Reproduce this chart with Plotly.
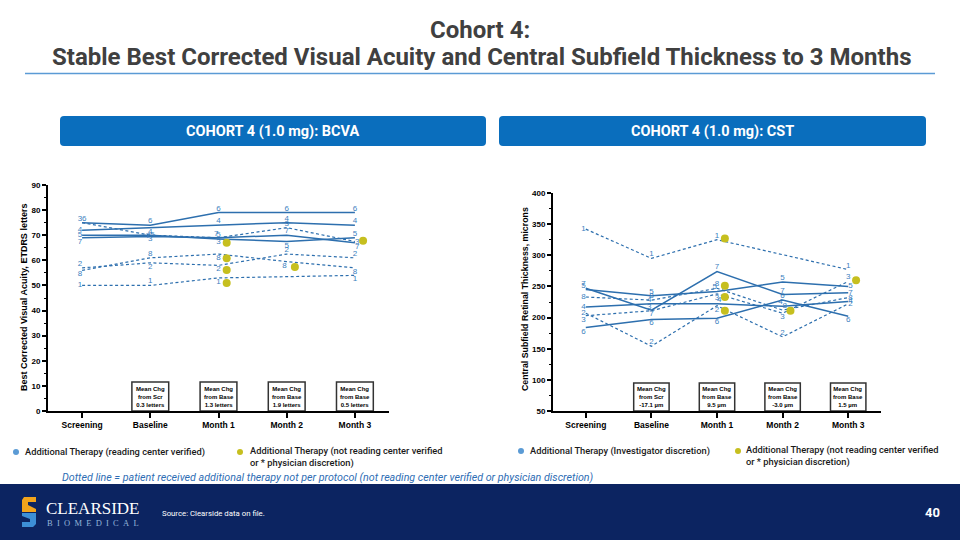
import plotly.graph_objects as go

# ---------------- data ----------------
visits = ["Screening", "Baseline", "Month 1", "Month 2", "Month 3"]
patients = ["1", "2", "3", "4", "5", "6", "7", "8"]

# BCVA (ETDRS letters) per patient
bcva_1 = [50, 50, 53, 53.5, 54]
bcva_2 = [57, 59, 58, 62.5, 61]
bcva_3 = [75, 70, 69, 73, 67.5]
bcva_4 = [72, 73, 74, 75, 74]
bcva_5 = [70, 70, 68.5, 67.5, 69]
bcva_6 = [75, 74, 79, 79, 79]
bcva_7 = [69, 69.5, 69, 70, 67]
bcva_8 = [56, 61, 62.5, 59.5, 57]
bcva_dashed = ["1", "2", "3", "8"]
bcva_dot_visit = ["Month 1", "Month 1", "Month 1", "Month 1", "Month 2", "Month 3"]
bcva_dot_value = [51, 56.2, 60.8, 67, 57.3, 67.8]
bcva_chg_ref = ["Scr", "Base", "Base", "Base"]
bcva_chg_val = ["0.3 letters", "1.3 letters", "1.9 letters", "0.5 letters"]

# CST (microns) per patient
cst_1 = [342, 295, 325, 301, 277]
cst_2 = [207, 154, 219, 169, 222]
cst_3 = [203, 211, 238, 207, 258]
cst_4 = [217, 222, 222, 218, 226]
cst_5 = [245, 235, 242, 257, 250]
cst_6 = [184, 197, 199, 228, 202]
cst_7 = [247, 212, 274, 237, 240]
cst_8 = [233, 228, 247, 212, 232]
cst_dashed = ["1", "2", "3", "8"]
cst_dot_visit = ["Month 1", "Month 1", "Month 1", "Month 1", "Month 2", "Month 3"]
cst_dot_value = [327, 251, 233, 211, 211, 260]
cst_chg_ref = ["Scr", "Base", "Base", "Base"]
cst_chg_val = ["-17.1 µm", "9.5 µm", "-3.0 µm", "1.5 µm"]

bcva_ticks = list(range(0, 91, 10))
cst_ticks = list(range(50, 401, 50))

# ---------------- styles ----------------
W, H = 960, 540
LINE_C = "#2d6fae"
LABEL_C = "#3d7fc0"
DOT_C = "#c6bf1f"
CHART_FONT = "Liberation Sans"
POS = {"tl": "top left", "tc": "top center", "tr": "top right",
       "ml": "middle left", "mr": "middle right",
       "bl": "bottom left", "bc": "bottom center", "br": "bottom right", "": "top center"}

bcva_pos = [
    ["ml", "tc", "bc", "", "bc"],
    ["tl", "bc", "bc", "tc", "tc"],
    ["tl", "bc", "bc", "tc", "mr"],
    ["ml", "bc", "tc", "tc", "tc"],
    ["ml", "mr", "tc", "bc", "tc"],
    ["tr", "tc", "tc", "tc", "tc"],
    ["bl", "ml", "tl", "tc", "br"],
    ["bl", "tc", "bc", "bl", "bc"],
]
cst_pos = [
    ["ml", "tc", "tc", "", "tc"],
    ["ml", "tc", "bc", "tc", "mr"],
    ["bl", "tl", "bc", "bc", "tc"],
    ["ml", "tl", "tr", "tl", "mr"],
    ["tl", "tc", "tl", "tc", "mr"],
    ["bl", "bc", "bc", "tc", "bc"],
    ["tl", "bc", "tc", "tc", "mr"],
    ["ml", "tc", "tc", "tr", "mr"],
]

xi = list(range(len(visits)))
fig = go.Figure()


def add_panel(series, dashed, positions, dot_visit, dot_value, xa, ya):
    for pid, vals, pos in zip(patients, series, positions):
        texts = [pid if p != "" else "" for p in pos]
        fig.add_trace(go.Scatter(
            x=xi, y=vals, mode="lines+text", xaxis=xa, yaxis=ya,
            line=dict(color=LINE_C, width=1.2 if pid in dashed else 1.5,
                      dash="3px,2.5px" if pid in dashed else "solid"),
            text=texts, textposition=[POS[p] for p in pos],
            textfont=dict(family=CHART_FONT, size=8, color=LABEL_C),
            hoverinfo="skip", cliponaxis=False))
    fig.add_trace(go.Scatter(
        x=[visits.index(v) + 0.12 for v in dot_visit], y=dot_value,
        mode="markers", xaxis=xa, yaxis=ya,
        marker=dict(color=DOT_C, size=8), hoverinfo="skip", cliponaxis=False))


add_panel([bcva_1, bcva_2, bcva_3, bcva_4, bcva_5, bcva_6, bcva_7, bcva_8],
          bcva_dashed, bcva_pos, bcva_dot_visit, bcva_dot_value, "x", "y")
add_panel([cst_1, cst_2, cst_3, cst_4, cst_5, cst_6, cst_7, cst_8],
          cst_dashed, cst_pos, cst_dot_visit, cst_dot_value, "x2", "y2")


def px_x(v):
    return v / W


def px_y(v):
    return 1 - v / H


def xaxis_cfg(d0, d1, anchor):
    return dict(domain=[px_x(d0), px_x(d1)], range=[-0.5, 4.5], anchor=anchor, automargin=False,
                tickvals=xi, ticktext=visits, ticks="outside", ticklen=5, tickwidth=1.5,
                tickcolor="black", showline=True, linecolor="black", linewidth=2,
                showgrid=False, zeroline=False, fixedrange=True,
                tickfont=dict(family=CHART_FONT, size=8.5, color="black", weight="bold"))


def yaxis_cfg(d0, d1, anchor, ticks, minor_step):
    minor = [t + minor_step for t in ticks[:-1]]
    return dict(domain=[px_y(d1), px_y(d0)], range=[ticks[0], ticks[-1]], anchor=anchor,
                automargin=False,
                tickvals=ticks, ticks="outside", ticklen=4, tickwidth=1.5, tickcolor="black",
                minor=dict(tickvals=minor, ticks="outside", ticklen=2.5, tickwidth=1, tickcolor="black"),
                showline=True, linecolor="black", linewidth=2, showgrid=False, zeroline=False,
                fixedrange=True,
                tickfont=dict(family=CHART_FONT, size=8, color="black", weight="bold"))


shapes = []
annotations = []


def note(x, y, text, font, xanchor="center", **kw):
    annotations.append(dict(x=px_x(x), y=px_y(y), xref="paper", yref="paper", text=text,
                            showarrow=False, xanchor=xanchor, yanchor="middle", font=font, **kw))


# Title
note(480, 30, "Cohort 4:", dict(family="Roboto", size=24, color="#404040", weight="bold"))
note(481, 57, "Stable Best Corrected Visual Acuity and Central Subfield Thickness to 3 Months",
     dict(family="Roboto", size=24, color="#404040", weight="bold"))
shapes.append(dict(type="line", xref="paper", yref="paper", x0=px_x(25), x1=px_x(935),
                   y0=px_y(73.5), y1=px_y(73.5), line=dict(color="#5b9bd5", width=1.5)))


def rrect(x0, y0, x1, y1, r):
    p = lambda x, y: f"{px_x(x)},{px_y(y)}"
    return (f"M {p(x0 + r, y0)} L {p(x1 - r, y0)} Q {p(x1, y0)} {p(x1, y0 + r)} "
            f"L {p(x1, y1 - r)} Q {p(x1, y1)} {p(x1 - r, y1)} L {p(x0 + r, y1)} "
            f"Q {p(x0, y1)} {p(x0, y1 - r)} L {p(x0, y0 + r)} Q {p(x0, y0)} {p(x0 + r, y0)} Z")


for (bx0, bx1, label) in [(60, 486, "COHORT 4 (1.0 mg): BCVA"), (499, 926, "COHORT 4 (1.0 mg): CST")]:
    shapes.append(dict(type="path", xref="paper", yref="paper", path=rrect(bx0, 116, bx1, 146, 4),
                       fillcolor="#0a6ebd", line=dict(width=0)))
    note((bx0 + bx1) / 2, 131, label, dict(family="Roboto", size=14.5, color="white", weight="bold"))

# Mean change boxes
for k, (ref, val) in enumerate(zip(bcva_chg_ref, bcva_chg_val)):
    c = k + 1
    shapes.append(dict(type="rect", xref="x", yref="y", x0=c - 0.27, x1=c + 0.27, y0=0, y1=11.5,
                       line=dict(color="#333333", width=1.5), fillcolor="white", layer="below"))
    annotations.append(dict(x=c, y=5.75, xref="x", yref="y", showarrow=False,
                            xanchor="center", yanchor="middle",
                            text=f"Mean Chg<br>from {ref}<br>{val}",
                            font=dict(family=CHART_FONT, size=6, color="black", weight="bold")))
for k, (ref, val) in enumerate(zip(cst_chg_ref, cst_chg_val)):
    c = k + 1
    shapes.append(dict(type="rect", xref="x2", yref="y2", x0=c - 0.27, x1=c + 0.27, y0=50, y1=95,
                       line=dict(color="#333333", width=1.5), fillcolor="white", layer="below"))
    annotations.append(dict(x=c, y=72.5, xref="x2", yref="y2", showarrow=False,
                            xanchor="center", yanchor="middle",
                            text=f"Mean Chg<br>from {ref}<br>{val}",
                            font=dict(family=CHART_FONT, size=6, color="black", weight="bold")))

# Axis titles
note(24, 298, "Best Corrected Visual Acuity, ETDRS letters",
     dict(family=CHART_FONT, size=9, color="black", weight="bold"), textangle=-90)
note(525, 299, "Central Subfield Retinal Thickness, microns",
     dict(family=CHART_FONT, size=8.8, color="black", weight="bold"), textangle=-90)

# Legends
LEG_FONT = dict(family="Roboto", size=9.3, color="#1a1a1a", weight=500)
for (dx, dy, color, tx, ty, text) in [
    (16, 452, "#5b9bd5", 23, 452, "Additional Therapy (reading center verified)"),
    (240, 452, DOT_C, 248, 456.5, "Additional Therapy (not reading center verified<br>or * physician discretion)"),
    (521, 451, "#5b9bd5", 528, 451, "Additional Therapy (Investigator discretion)"),
    (738, 451, DOT_C, 744, 455.5, "Additional Therapy (not reading center verified<br>or * physician discretion)"),
]:
    shapes.append(dict(type="circle", xref="paper", yref="paper", x0=px_x(dx - 3), x1=px_x(dx + 3),
                       y0=px_y(dy + 3), y1=px_y(dy - 3), fillcolor=color, line=dict(width=0)))
    note(tx, ty, text, LEG_FONT, xanchor="left", align="left")

note(60, 477, "<i>Dotted line = patient received additional therapy not per protocol (not reading center verified or physician discretion)</i>",
     dict(family="Roboto", size=10.7, color="#2e6db4", weight=400), xanchor="left")

# Footer
shapes.append(dict(type="rect", xref="paper", yref="paper", x0=0, x1=1, y0=0, y1=px_y(484),
                   fillcolor="#0c2461", line=dict(width=0), layer="below"))
shapes.append(dict(type="path", xref="paper", yref="paper",
                   path=f"M {px_x(24)},{px_y(497)} L {px_x(36)},{px_y(497)} L {px_x(36)},{px_y(502)} "
                        f"L {px_x(28)},{px_y(502)} L {px_x(28)},{px_y(505)} L {px_x(36)},{px_y(509)} "
                        f"L {px_x(36)},{px_y(512)} L {px_x(22)},{px_y(512)} L {px_x(22)},{px_y(500)} Z",
                   fillcolor="#f2a41c", line=dict(width=0)))
shapes.append(dict(type="path", xref="paper", yref="paper",
                   path=f"M {px_x(22)},{px_y(513)} L {px_x(36)},{px_y(513)} L {px_x(36)},{px_y(524)} "
                        f"L {px_x(33)},{px_y(527)} L {px_x(22)},{px_y(527)} L {px_x(22)},{px_y(522)} "
                        f"L {px_x(30)},{px_y(522)} L {px_x(30)},{px_y(519)} L {px_x(22)},{px_y(516)} Z",
                   fillcolor="#3d8fd6", line=dict(width=0)))
note(44, 509, "CLEARSIDE", dict(family="Liberation Serif", size=17, color="white"), xanchor="left")
note(45, 523, "\u2002".join("BIOMEDICAL"), dict(family="Liberation Serif", size=8.5, color="#93b4da"),
     xanchor="left")
note(160, 513, "Source: Clearside data on file.", dict(family="Roboto", size=7.8, color="white"),
     xanchor="left")
note(932, 512, "40", dict(family="Roboto", size=13, color="white", weight="bold"))

fig.update_layout(
    template="none",
    width=W, height=H, margin=dict(l=0, r=0, t=0, b=0, pad=0, autoexpand=False),
    paper_bgcolor="white", plot_bgcolor="white", showlegend=False,
    xaxis=xaxis_cfg(48, 389, "y"),
    yaxis=yaxis_cfg(185, 411, "x", bcva_ticks, 5),
    xaxis2=xaxis_cfg(553, 881, "y2"),
    yaxis2=yaxis_cfg(193, 411, "x2", cst_ticks, 25),
    shapes=shapes, annotations=annotations,
)

fig.write_html("out.html", config={"displayModeBar": False},
               post_script="document.body.style.margin='0';document.body.style.overflow='hidden';")
